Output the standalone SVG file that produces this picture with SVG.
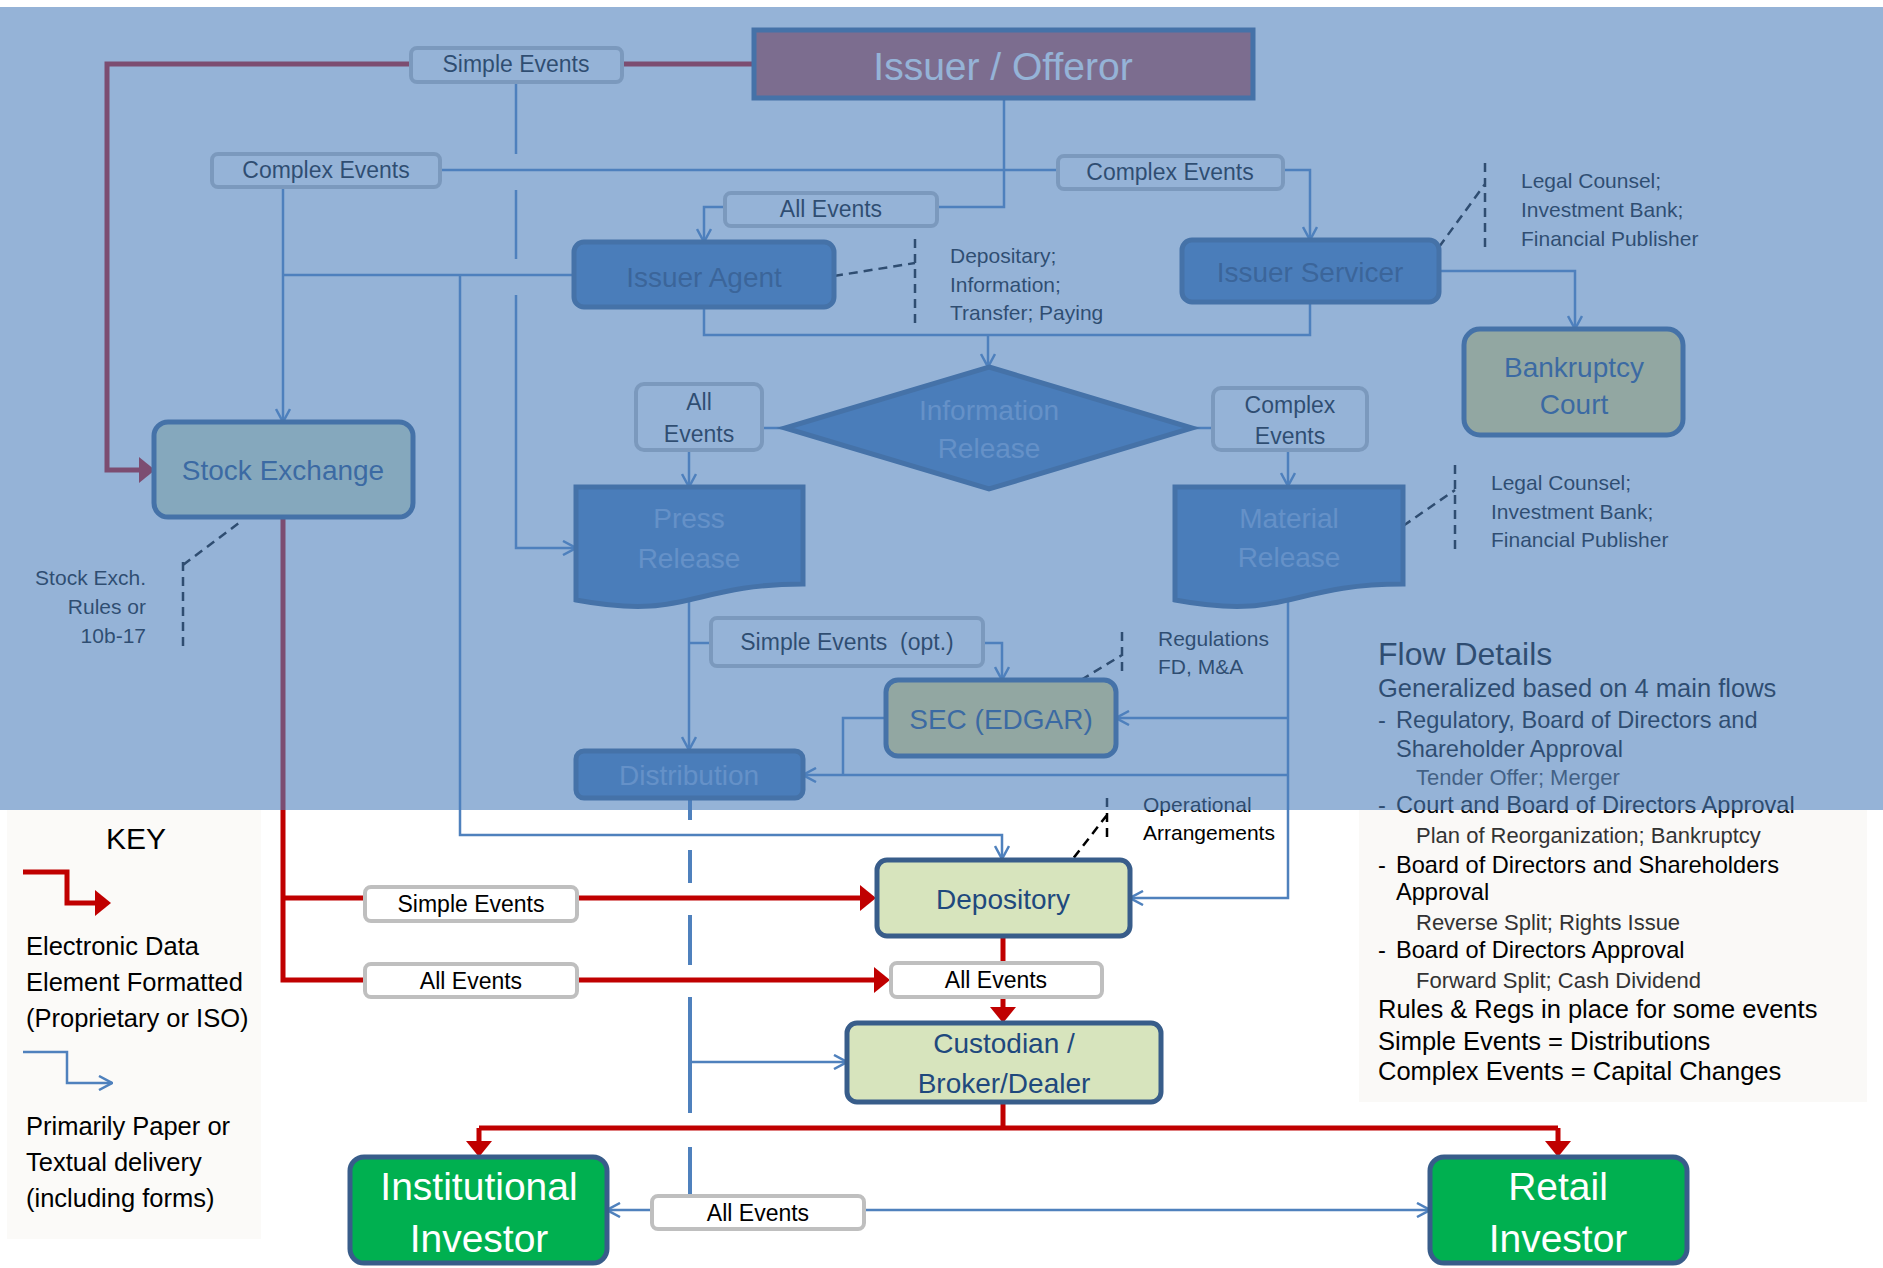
<svg xmlns="http://www.w3.org/2000/svg" width="1883" height="1268" viewBox="0 0 1883 1268">
  <style>
    text { font-family: "Liberation Sans", Arial, sans-serif; }
    .lbl rect { fill: #ffffff; stroke: #BFBFBF; stroke-width: 4; }
    .lbl text { font-size: 23px; fill: #000000; text-anchor: middle; }
    .box { stroke: #385D8A; stroke-width: 5; }
    .green { fill: #D7E4BD; }
    .gold { fill: #F8E27C; }
    .blue { fill: #4479B7; }
    .inv { fill: #00B050; }
    .ntxt { font-size: 28px; text-anchor: middle; fill: #1F497D; }
    .ntxt-d { font-size: 28px; text-anchor: middle; fill: #1F3D66; }
    .ntxt-l { font-size: 28px; text-anchor: middle; fill: #88ABD9; }
    .note { font-size: 21px; fill: #000000; }
    .wire { fill: none; stroke: #4F81BD; stroke-width: 2.5; }
    .wire-thick { fill: none; stroke: #4F81BD; stroke-width: 4; }
    .data { fill: none; stroke: #C00000; stroke-width: 5; }
    .dash { fill: none; stroke: #000000; stroke-width: 2.5; stroke-dasharray: 9 6; }
    .fd { font-size: 25.5px; fill: #000000; }
    .fd-item { font-size: 23.6px; fill: #000000; }
    .fd-sub { font-size: 22px; fill: #333333; }
    .key { font-size: 25.5px; fill: #000000; }
  </style>
  <defs>
    <marker id="arrBlue" viewBox="0 0 15 16" refX="14" refY="8" markerWidth="15" markerHeight="16" markerUnits="userSpaceOnUse" orient="auto">
      <path d="M1,1 L14,8 L1,15" fill="none" stroke="#4F81BD" stroke-width="2.5"/>
    </marker>
    <marker id="arrRed" viewBox="0 0 16 26" refX="1" refY="13" markerWidth="16" markerHeight="26" markerUnits="userSpaceOnUse" orient="auto">
      <path d="M0,0 L16,13 L0,26 Z" fill="#C00000"/>
    </marker>
  </defs>

  <rect x="0" y="0" width="1883" height="1268" fill="#ffffff"/>

  <!-- side panels -->
  <rect id="key-panel" x="7" y="810" width="254" height="429" fill="#FBFAF8"/>
  <rect id="flow-details-panel" x="1359" y="810" width="508" height="292" fill="#FAF9F7"/>

  <!-- connectors -->
  <g id="connectors">
    <!-- paper / textual flows -->
    <path class="wire" d="M516,82 V154 M516,190 V259 M516,295 V548 H576" marker-end="url(#arrBlue)"/>
    <path class="wire" d="M283,187 V422" marker-end="url(#arrBlue)"/>
    <path class="wire" d="M440,170 H1058"/>
    <path class="wire" d="M1004,98 V207 H937"/>
    <path class="wire" d="M725,207 H704 V242" marker-end="url(#arrBlue)"/>
    <path class="wire" d="M1283,170 H1310 V240" marker-end="url(#arrBlue)"/>
    <path class="wire" d="M574,275 H283"/>
    <path class="wire" d="M460,275 V835 H1002 V859" marker-end="url(#arrBlue)"/>
    <path class="wire" d="M704,307 V335 H988 M1310,302 V335 H988"/>
    <path class="wire" d="M988,335 V367" marker-end="url(#arrBlue)"/>
    <path class="wire" d="M1439,271 H1575 V329" marker-end="url(#arrBlue)"/>
    <path class="wire" d="M785,428 H762 M1192,428 H1213"/>
    <path class="wire" d="M689,450 V487" marker-end="url(#arrBlue)"/>
    <path class="wire" d="M1288,450 V486" marker-end="url(#arrBlue)"/>
    <path class="wire" d="M689,600 V750" marker-end="url(#arrBlue)"/>
    <path class="wire" d="M689,643 H711"/>
    <path class="wire" d="M983,643 H1002 V680" marker-end="url(#arrBlue)"/>
    <path class="wire" d="M1288,600 V898 H1130" marker-end="url(#arrBlue)"/>
    <path class="wire" d="M1288,718 H1116" marker-end="url(#arrBlue)"/>
    <path class="wire" d="M1288,775 H803" marker-end="url(#arrBlue)"/>
    <path class="wire" d="M886,718 H843 V775"/>
    <path class="wire-thick" d="M690,798 V820 M690,850 V883 M690,915 V965 M690,997 V1113 M690,1147 V1196"/>
    <path class="wire" d="M690,1062 H847" marker-end="url(#arrBlue)"/>
    <path class="wire" d="M652,1210 H607" marker-end="url(#arrBlue)"/>
    <path class="wire" d="M864,1210 H1430" marker-end="url(#arrBlue)"/>

    <!-- electronic data flows -->
    <path class="data" d="M754,64 H622"/>
    <path class="data" d="M411,64 H107 V470 H140" marker-end="url(#arrRed)"/>
    <path class="data" d="M283,517 V980 H365 M283,898 H365"/>
    <path class="data" d="M577,898 H861" marker-end="url(#arrRed)"/>
    <path class="data" d="M577,980 H875" marker-end="url(#arrRed)"/>
    <path class="data" d="M1003,936 V963"/>
    <path class="data" d="M1003,997 V1008" marker-end="url(#arrRed)"/>
    <path class="data" d="M1003,1102 V1128 M479,1128 H1558"/>
    <path class="data" d="M479,1128 V1142" marker-end="url(#arrRed)"/>
    <path class="data" d="M1558,1128 V1142" marker-end="url(#arrRed)"/>

    <!-- annotation leaders -->
    <path class="dash" d="M183,562 V647 M183,565 L239,523"/>
    <path class="dash" d="M834,276 L915,263 M915,239 V323"/>
    <path class="dash" d="M1439,247 L1485,184 M1485,163 V248"/>
    <path class="dash" d="M1403,526 L1455,490 M1455,465 V551"/>
    <path class="dash" d="M1081,680 L1122,655 M1122,632 V672"/>
    <path class="dash" d="M1107,798 V837 M1107,815 L1072,860"/>
  </g>

  <!-- edge labels -->
  <g id="label-simple-top" class="lbl"><rect x="411" y="48" width="211" height="34" rx="6"/><text x="516" y="72">Simple Events</text></g>
  <g id="label-complex-left" class="lbl"><rect x="212" y="154" width="228" height="33" rx="6"/><text x="326" y="178">Complex Events</text></g>
  <g id="label-complex-right" class="lbl"><rect x="1058" y="156" width="225" height="33" rx="6"/><text x="1170" y="180">Complex Events</text></g>
  <g id="label-all-top" class="lbl"><rect x="725" y="193" width="212" height="33" rx="6"/><text x="831" y="217">All Events</text></g>
  <g id="label-all-mid" class="lbl"><rect x="636" y="384" width="126" height="66" rx="8"/><text x="699" y="410">All</text><text x="699" y="442">Events</text></g>
  <g id="label-complex-mid" class="lbl"><rect x="1213" y="388" width="154" height="62" rx="8"/><text x="1290" y="413">Complex</text><text x="1290" y="444">Events</text></g>
  <g id="label-simple-opt" class="lbl"><rect x="711" y="618" width="272" height="48" rx="6"/><text x="847" y="650" xml:space="preserve">Simple Events  (opt.)</text></g>
  <g id="label-simple-bottom" class="lbl"><rect x="365" y="887" width="212" height="34" rx="6"/><text x="471" y="912">Simple Events</text></g>
  <g id="label-all-bottom-left" class="lbl"><rect x="365" y="964" width="212" height="33" rx="6"/><text x="471" y="989">All Events</text></g>
  <g id="label-all-depository" class="lbl"><rect x="891" y="963" width="211" height="34" rx="6"/><text x="996" y="988">All Events</text></g>
  <g id="label-all-investors" class="lbl"><rect x="652" y="1196" width="212" height="33" rx="6"/><text x="758" y="1221">All Events</text></g>

  <!-- nodes -->
  <g id="issuer-offeror">
    <rect class="box" x="754" y="30" width="499" height="68" fill="#C0504D"/>
    <text x="1003" y="80" font-size="39" text-anchor="middle" fill="#ffffff">Issuer / Offeror</text>
  </g>
  <g id="stock-exchange">
    <rect class="box green" x="154" y="422" width="259" height="95" rx="14"/>
    <text class="ntxt" x="283" y="480">Stock Exchange</text>
  </g>
  <g id="issuer-agent">
    <rect class="box blue" x="574" y="242" width="260" height="65" rx="10"/>
    <text class="ntxt-d" x="704" y="287">Issuer Agent</text>
  </g>
  <g id="issuer-servicer">
    <rect class="box blue" x="1182" y="240" width="257" height="62" rx="10"/>
    <text class="ntxt-d" x="1310" y="282">Issuer Servicer</text>
  </g>
  <g id="bankruptcy-court">
    <rect class="box gold" x="1464" y="329" width="219" height="106" rx="16"/>
    <text class="ntxt" x="1574" y="377">Bankruptcy</text>
    <text class="ntxt" x="1574" y="414">Court</text>
  </g>
  <g id="information-release">
    <polygon class="box blue" points="989,367 1192,428 989,489 785,428"/>
    <text class="ntxt-l" x="989" y="420">Information</text>
    <text class="ntxt-l" x="989" y="458">Release</text>
  </g>
  <g id="press-release">
    <path class="box blue" d="M576,487 H803 V584 C689.5,584 689.5,621 576,600 Z"/>
    <text class="ntxt-l" x="689" y="528">Press</text>
    <text class="ntxt-l" x="689" y="568">Release</text>
  </g>
  <g id="material-release">
    <path class="box blue" d="M1175,487 H1403 V584 C1289,584 1289,621 1175,600 Z"/>
    <text class="ntxt-l" x="1289" y="528">Material</text>
    <text class="ntxt-l" x="1289" y="567">Release</text>
  </g>
  <g id="sec-edgar">
    <rect class="box gold" x="886" y="680" width="230" height="76" rx="12"/>
    <text class="ntxt" x="1001" y="729">SEC (EDGAR)</text>
  </g>
  <g id="distribution">
    <rect class="box blue" x="576" y="751" width="227" height="47" rx="8"/>
    <text class="ntxt-l" x="689" y="785">Distribution</text>
  </g>
  <g id="depository">
    <rect class="box green" x="877" y="860" width="253" height="76" rx="10"/>
    <text class="ntxt" x="1003" y="909">Depository</text>
  </g>
  <g id="custodian">
    <rect class="box green" x="847" y="1023" width="314" height="79" rx="10"/>
    <text class="ntxt" x="1004" y="1053">Custodian /</text>
    <text class="ntxt" x="1004" y="1093">Broker/Dealer</text>
  </g>
  <g id="institutional-investor">
    <rect class="box inv" x="350" y="1157" width="257" height="106" rx="14"/>
    <text x="479" y="1200" font-size="39" text-anchor="middle" fill="#ffffff">Institutional</text>
    <text x="479" y="1252" font-size="39" text-anchor="middle" fill="#ffffff">Investor</text>
  </g>
  <g id="retail-investor">
    <rect class="box inv" x="1430" y="1157" width="257" height="106" rx="14"/>
    <text x="1558" y="1200" font-size="39" text-anchor="middle" fill="#ffffff">Retail</text>
    <text x="1558" y="1252" font-size="39" text-anchor="middle" fill="#ffffff">Investor</text>
  </g>

  <!-- annotations -->
  <g id="notes">
    <text class="note" x="146" y="585" text-anchor="end">Stock Exch.</text>
    <text class="note" x="146" y="614" text-anchor="end">Rules or</text>
    <text class="note" x="146" y="643" text-anchor="end">10b-17</text>
    <text class="note" x="950" y="263">Depositary;</text>
    <text class="note" x="950" y="292">Information;</text>
    <text class="note" x="950" y="320">Transfer; Paying</text>
    <text class="note" x="1521" y="188">Legal Counsel;</text>
    <text class="note" x="1521" y="217">Investment Bank;</text>
    <text class="note" x="1521" y="246">Financial Publisher</text>
    <text class="note" x="1491" y="490">Legal Counsel;</text>
    <text class="note" x="1491" y="519">Investment Bank;</text>
    <text class="note" x="1491" y="547">Financial Publisher</text>
    <text class="note" x="1158" y="646">Regulations</text>
    <text class="note" x="1158" y="674">FD, M&amp;A</text>
    <text class="note" x="1143" y="812">Operational</text>
    <text class="note" x="1143" y="840">Arrangements</text>
  </g>

  <!-- flow details -->
  <g id="flow-details">
    <text x="1378" y="665" font-size="32" fill="#000000">Flow Details</text>
    <text class="fd" x="1378" y="697">Generalized based on 4 main flows</text>
    <text class="fd-item" x="1378" y="728">-</text><text class="fd-item" x="1396" y="728">Regulatory, Board of Directors and</text>
    <text class="fd-item" x="1396" y="757">Shareholder Approval</text>
    <text class="fd-sub" x="1416" y="785">Tender Offer; Merger</text>
    <text class="fd-item" x="1378" y="813">-</text><text class="fd-item" x="1396" y="813">Court and Board of Directors Approval</text>
    <text class="fd-sub" x="1416" y="843">Plan of Reorganization; Bankruptcy</text>
    <text class="fd-item" x="1378" y="873">-</text><text class="fd-item" x="1396" y="873">Board of Directors and Shareholders</text>
    <text class="fd-item" x="1396" y="900">Approval</text>
    <text class="fd-sub" x="1416" y="930">Reverse Split; Rights Issue</text>
    <text class="fd-item" x="1378" y="958">-</text><text class="fd-item" x="1396" y="958">Board of Directors Approval</text>
    <text class="fd-sub" x="1416" y="988">Forward Split; Cash Dividend</text>
    <text class="fd" x="1378" y="1018">Rules &amp; Regs in place for some events</text>
    <text class="fd" x="1378" y="1050">Simple Events = Distributions</text>
    <text class="fd" x="1378" y="1080">Complex Events = Capital Changes</text>
  </g>

  <!-- legend -->
  <g id="legend">
    <text x="136" y="849" font-size="30" text-anchor="middle" fill="#000000">KEY</text>
    <path class="data" d="M23,872 H67 V903 H96" marker-end="url(#arrRed)"/>
    <text class="key" x="26" y="955">Electronic Data</text>
    <text class="key" x="26" y="991">Element Formatted</text>
    <text class="key" x="26" y="1027">(Proprietary or ISO)</text>
    <path class="wire" d="M23,1052 H67 V1083 H112" marker-end="url(#arrBlue)"/>
    <text class="key" x="26" y="1135">Primarily Paper or</text>
    <text class="key" x="26" y="1171">Textual delivery</text>
    <text class="key" x="26" y="1207">(including forms)</text>
  </g>

  <!-- translucent highlight panel over the upstream part of the flow -->
  <rect id="upstream-panel" x="0" y="7" width="1883" height="803" fill="#4F81BD" fill-opacity="0.6"/>
</svg>
